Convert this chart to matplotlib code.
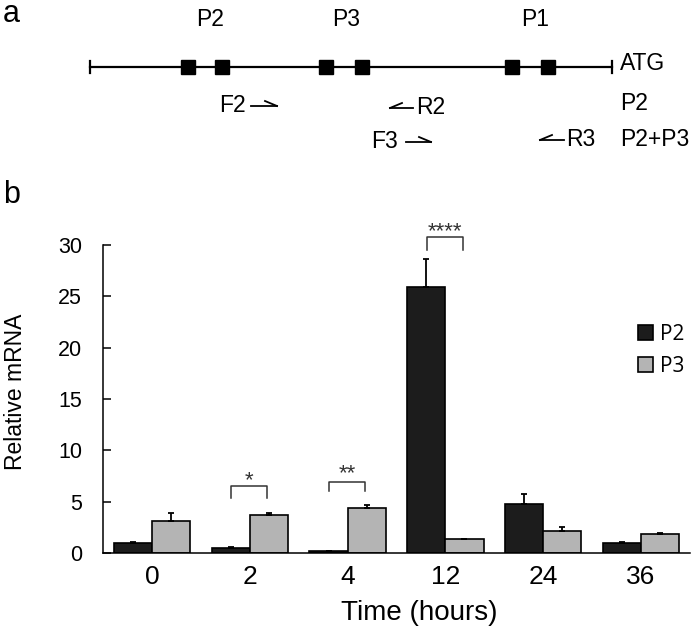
import numpy as np
import matplotlib
matplotlib.use("Agg")
import matplotlib.pyplot as plt
from matplotlib.patches import Patch

plt.rcParams['font.family'] = ['Liberation Sans', 'DejaVu Sans']

# panel b data
times = ['0', '2', '4', '12', '24', '36']
p2_mean = [1.0, 0.5, 0.15, 25.9, 4.75, 1.0]
p2_err = [0.05, 0.05, 0.03, 2.7, 1.0, 0.05]
p3_mean = [3.1, 3.7, 4.4, 1.35, 2.15, 1.85]
p3_err = [0.75, 0.15, 0.3, 0.0, 0.4, 0.12]

# significance brackets: group index, bracket top, leg bottom, star centre
sig_group = [1, 2, 3]
sig_top = [6.5, 6.95, 30.8]
sig_low = [5.35, 6.05, 29.5]
sig_star_y = [7.05, 7.75, 31.25]
sig_text = ['*', '**', '****']

# panel a schematic (pixel layout of the gene map)
map_start, map_end, map_y = 90, 612, 67
exon_x = [188, 222, 326, 362, 512, 548]
promoter_names = ['P2', 'P3', 'P1']
promoter_x = [210, 346, 535]
primer_names = ['F2', 'R2', 'F3', 'R3']
primer_text_x = [219, 416, 371, 566]
primer_tail = [251, 413, 406, 564]
primer_head = [277, 390, 431, 540]
primer_y = [106, 108, 142, 140]
right_labels = ['ATG', 'P2', 'P2+P3']
right_y = [63, 103, 140]

fig = plt.figure(figsize=(7.0, 6.34), dpi=100)

# ---- panel a ----
ax0 = fig.add_axes([0, 1 - 200 / 634, 1, 200 / 634])
ax0.set_xlim(0, 700)
ax0.set_ylim(200, 0)
ax0.axis('off')

ax0.plot([map_start, map_end], [map_y, map_y], color='black', lw=1.6)
for xe in (map_start, map_end):
    ax0.plot([xe, xe], [map_y - 6, map_y + 6], color='black', lw=1.6)
ax0.plot(exon_x, [map_y] * len(exon_x), 's', color='black', markersize=9.4)
for name, x in zip(promoter_names, promoter_x):
    ax0.text(x, 20, name, ha='center', va='center', fontsize=16.5)
for name, y in zip(right_labels, right_y):
    ax0.text(620, y, name, ha='left', va='center', fontsize=16.5)

for name, tx, t0, t1, y in zip(primer_names, primer_text_x, primer_tail,
                               primer_head, primer_y):
    ax0.text(tx, y, name, ha='left', va='center', fontsize=16.5)
    d = np.sign(t1 - t0)
    ax0.plot([t0, t1], [y, y], color='black', lw=1.3)
    ax0.plot([t1 - d * 12, t1], [y - 5, y], color='black', lw=1.3)

fig.text(0.004, 1 - 22 / 634, 'a', fontsize=22, ha='left', va='baseline')
fig.text(0.004, 1 - 203 / 634, 'b', fontsize=22, ha='left', va='baseline')

# ---- panel b ----
ax = fig.add_axes([103 / 700, 1 - 553 / 634, 587 / 700, 308 / 634])
x = np.arange(len(times))
w = 0.39
zeros = np.zeros(len(times))
ax.bar(x - w, p2_mean, width=w, align='edge', color='#1c1c1c',
       edgecolor='black', linewidth=1.2,
       yerr=[zeros, p2_err], error_kw=dict(ecolor='black', elinewidth=1.3,
                                            capsize=2.2, capthick=1.3),
       label='P2')
ax.bar(x, p3_mean, width=w, align='edge', color='#b4b4b4',
       edgecolor='black', linewidth=1.2,
       yerr=[zeros, p3_err], error_kw=dict(ecolor='black', elinewidth=1.3,
                                            capsize=2.2, capthick=1.3),
       label='P3')

for g, top, low, sy, s in zip(sig_group, sig_top, sig_low, sig_star_y, sig_text):
    xl, xr = g - 0.19, g + 0.18
    ax.plot([xl, xl, xr, xr], [low, top, top, low], color='#333333',
            lw=1.1, clip_on=False)
    ax.text((xl + xr) / 2, sy, s, ha='center', va='center', fontsize=16,
            color='#333333', clip_on=False)

ax.set_xlim(-0.5, len(times) - 0.5)
ax.set_ylim(0, 30)
ax.set_yticks([0, 5, 10, 15, 20, 25, 30])
ax.set_xticks(x)
ax.set_xticklabels(times)
ax.tick_params(axis='x', length=0, pad=9, labelsize=19)
ax.tick_params(axis='y', direction='in', length=6, width=1.1, pad=15,
               labelsize=15.5)
for side in ('top', 'right'):
    ax.spines[side].set_visible(False)
for side in ('left', 'bottom'):
    ax.spines[side].set_linewidth(1.1)

ax.set_ylabel('Relative mRNA', fontsize=16.5)
ax.yaxis.set_label_coords(-0.13, 0.524)
ax.set_xlabel('Time (hours)', fontsize=20, va='top')
ax.xaxis.set_label_coords(0.538, -0.153)

handles = [Patch(facecolor='#1c1c1c', edgecolor='black', linewidth=1.2),
           Patch(facecolor='#b4b4b4', edgecolor='black', linewidth=1.2)]
ax.legend(handles, ['P2', 'P3'], loc='upper left',
          bbox_to_anchor=(0.911, 0.745), frameon=False,
          handlelength=0.72, handleheight=0.72, handletextpad=0.35,
          labelspacing=0.55, borderpad=0, borderaxespad=0,
          prop={'family': 'Open Sans', 'size': 15})

fig.savefig('out.png', dpi=100)
